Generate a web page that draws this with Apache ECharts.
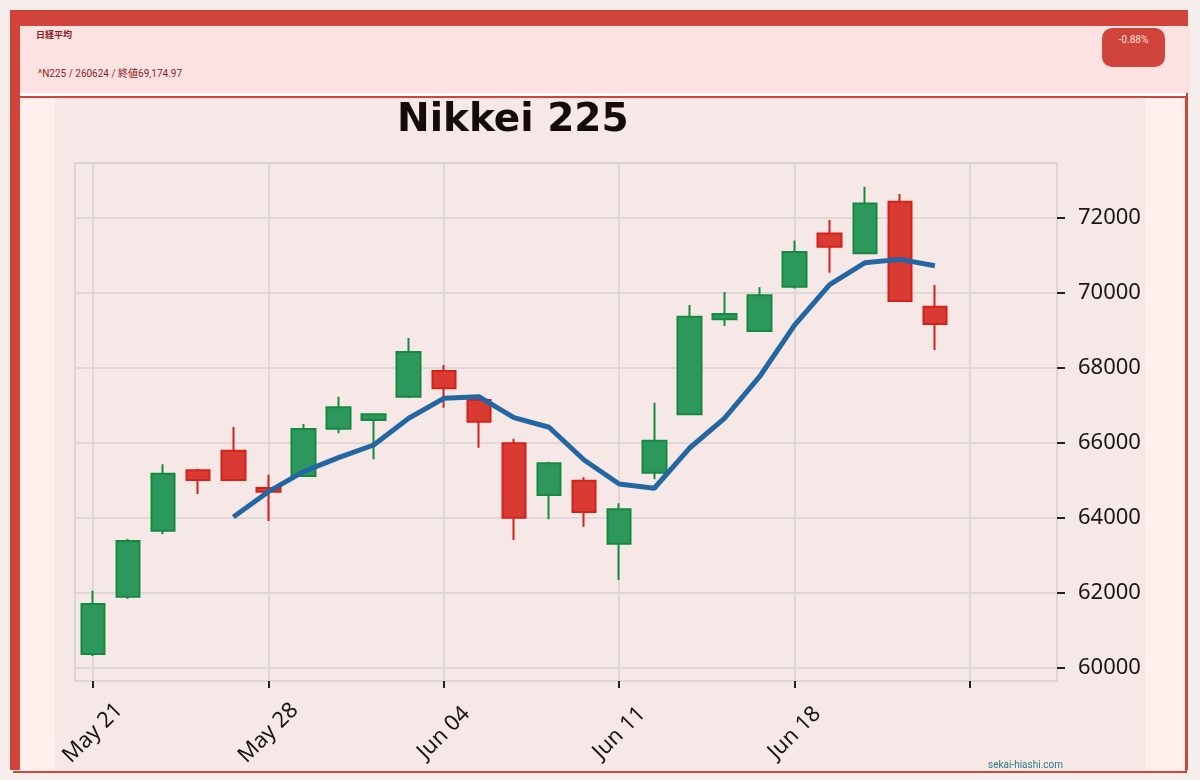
<!DOCTYPE html>
<html>
<head>
<meta charset="utf-8">
<script src="https://cdn.jsdelivr.net/npm/echarts@6/dist/echarts.min.js"></script>
<style>
  html, body { margin: 0; padding: 0; }
  body { width: 1200px; height: 780px; background: #f6eeec; position: relative; overflow: hidden; font-family: Roboto, "Noto Sans CJK JP", sans-serif; }
  .card { position: absolute; left: 10px; top: 10px; width: 1178px; height: 760px; background: #fff; border-top: 16px solid #d0443c; border-right: 2px solid #d0443c; box-sizing: border-box; }
  .leftbar { position: absolute; left: 10px; top: 10px; width: 10px; height: 760px; background: #d0443c; z-index: 3; }
  .head { position: absolute; left: 20px; top: 26px; width: 1170px; height: 67px; background: #fde2e2; z-index: 2; }
  .name { position: absolute; left: 16px; top: 2px; font-size: 9px; font-weight: bold; color: #8a1c1c; }
  .sub { position: absolute; left: 18px; top: 39px; font-size: 10px; color: #8b2222; }
  .badge { position: absolute; left: 1082px; top: 2px; width: 63px; height: 39px; border-radius: 10px; background: #d0443c; color: #ffe0da; font-size: 10px; text-align: center; line-height: 24px; }
  .frame { position: absolute; left: 13px; top: 96px; width: 1174px; height: 677px; background: #fff0ee; border: 2px solid #d0443c; border-left: none; box-sizing: border-box; }
  #chart { position: absolute; left: 55px; top: 98px; width: 1090px; height: 672px; background: #f5e8e6; }
  .mark { position: absolute; left: 988px; top: 759px; font-size: 10px; color: #2b7c85; z-index: 4; }
</style>
</head>
<body>
<div class="card"></div>
<div class="head">
  <div class="name">日経平均</div>
  <div class="sub">^N225 / 260624 / 終値69,174.97</div>
  <div class="badge">-0.88%</div>
</div>
<div class="frame"></div>
<div class="leftbar"></div>
<div id="chart"></div>
<div class="mark">sekai-hiashi.com</div>
<script>
// trading days, index 0 = May 21
const dates = ["May 21", "May 22", "May 25", "May 26", "May 27", "May 28", "May 29", "Jun 01", "Jun 02", "Jun 03",
  "Jun 04", "Jun 05", "Jun 08", "Jun 09", "Jun 10", "Jun 11", "Jun 12", "Jun 15", "Jun 16", "Jun 17",
  "Jun 18", "Jun 19", "Jun 22", "Jun 23", "Jun 24"];
const xTicks = [0, 5, 10, 15, 20, 25];
const yTicks = [60000, 62000, 64000, 66000, 68000, 70000, 72000];

const opens = [60373, 61901, 63661, 65272, 65795, 64800, 65120, 66381, 66613, 67235,
  67920, 67150, 65992, 64613, 64995, 63315, 65208, 66765, 69299, 68987,
  70168, 71592, 71059, 72435, 69635];
const closes = [61707, 63387, 65181, 65013, 65013, 64701, 66373, 66952, 66765, 68427,
  67459, 66568, 64008, 65459, 64160, 64232, 66061, 69368, 69440, 69939,
  71093, 71235, 72392, 69789, 69174.97];
const lows = [60320, 61840, 63565, 64640, 65013, 63920, 65100, 66259, 65565, 67200,
  66941, 65875, 63413, 63965, 63768, 62347, 65032, 66765, 69120, 68987,
  70125, 70541, 71059, 69789, 68480];
const highs = [62061, 63440, 65432, 65315, 66427, 65155, 66507, 67235, 66765, 68800,
  68080, 67230, 66115, 65501, 65085, 64392, 67075, 69680, 70027, 70152,
  71405, 71947, 72835, 72640, 70213];

// 5-day moving average, starts at index 4
const maStart = 4;
const ma5 = [64027, 64701, 65235, 65608, 65947, 66659, 67192, 67235, 66675, 66419,
  65547, 64907, 64792, 65859, 66659, 67768, 69147, 70227, 70808, 70899, 70728];

const myChart = echarts.init(document.getElementById("chart"));

const candleData = dates.map((d, i) => [i, opens[i], closes[i], lows[i], highs[i]]);
const maData = ma5.map((v, i) => [i + maStart, v]);

const tickFont = { fontFamily: "Noto Sans", fontSize: 22, color: "#1a1414" };
const spineColor = "#ddd4d6";

let option = {
  animation: false,
  backgroundColor: "#f5e8e6",
  graphic: [
    {
      type: "text",
      left: 342,
      top: 3,
      style: {
        text: "Nikkei 225",
        font: "bold 39px 'DejaVu Sans'",
        fill: "#160b0b"
      }
    }
  ],
  grid: {
    left: 20,
    top: 65,
    width: 982,
    height: 518,
    outerBoundsMode: "none",
    containLabel: false,
    show: true,
    borderColor: spineColor,
    borderWidth: 2,
    backgroundColor: "transparent"
  },
  xAxis: {
    type: "value",
    min: -0.513,
    max: 27.48,
    axisLine: { show: true, onZero: false, lineStyle: { color: spineColor, width: 2 } },
    axisTick: {
      show: true,
      length: 7,
      customValues: xTicks,
      lineStyle: { color: "#222", width: 2 }
    },
    splitLine: { show: true, lineStyle: { color: "#e0d7d9", width: 2 } },
    axisLabel: {
      customValues: xTicks,
      rotate: 45,
      align: "center",
      verticalAlign: "middle",
      margin: 52,
      ...tickFont,
      formatter(value) {
        return value < dates.length ? dates[value] : "";
      }
    }
  },
  yAxis: {
    type: "value",
    position: "right",
    min: 59650,
    max: 73470,
    axisLine: { show: true, onZero: false, lineStyle: { color: spineColor, width: 2 } },
    axisTick: {
      show: true,
      inside: false,
      length: 8,
      customValues: yTicks,
      lineStyle: { color: "#222", width: 2 }
    },
    splitLine: { show: true, lineStyle: { color: "#e0d7d9", width: 2 } },
    axisLabel: {
      customValues: yTicks,
      margin: 21,
      ...tickFont,
      formatter(value) {
        return String(value);
      }
    }
  },
  series: [
    {
      type: "candlestick",
      data: candleData,
      encode: { x: 0, y: [1, 2, 3, 4] },
      barWidth: 24,
      itemStyle: {
        color: "#2c985c",
        color0: "#d93b32",
        borderColor: "#17893f",
        borderColor0: "#d4211a",
        borderWidth: 2
      }
    },
    {
      type: "line",
      data: maData,
      symbol: "none",
      lineStyle: { color: "#2466a2", width: 5 }
    }
  ]
};
myChart.setOption(option);
</script>
</body>
</html>
